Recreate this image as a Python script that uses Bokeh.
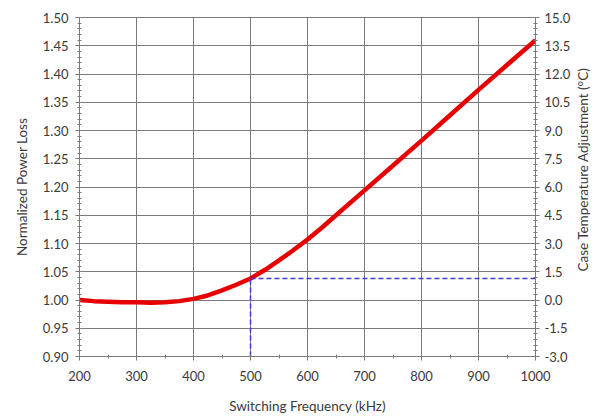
import math
from bokeh.plotting import figure
from bokeh.layouts import row
from bokeh.models import (Range1d, LinearAxis, SingleIntervalTicker, ColumnDataSource,
                          CustomJSTickFormatter)
from bokeh.core.properties import value
from bokeh.embed import file_html
from bokeh.resources import INLINE

freq = [200, 225, 250, 275, 300, 325, 350, 375, 400, 425, 450, 475, 500, 525, 550, 575, 600,
        625, 650, 700, 750, 800, 850, 900, 950, 1000]
loss = [1.000, 0.998, 0.997, 0.996, 0.996, 0.995, 0.996, 0.998, 1.002, 1.008, 1.017, 1.027,
        1.038, 1.053, 1.070, 1.088, 1.107, 1.128, 1.150, 1.194, 1.238, 1.282, 1.327, 1.372,
        1.416, 1.460]
ref_freq = 500
ref_loss = 1.038
right_label = "Case Temperature Adjustment (°C)"

FONT = "Lato"
GRID = "#7a7a7a"
TXT = "#3a3a3a"

p = figure(width=571, height=416, output_backend="svg", toolbar_location=None,
           x_range=Range1d(200, 1000), y_range=Range1d(0.90, 1.50),
           min_border_left=79, min_border_right=36, min_border_top=17, min_border_bottom=60)
p.frame_width = 456
p.frame_height = 339

p.extra_y_ranges = {"temp": Range1d(-3.0, 15.0)}

p.xaxis.ticker = SingleIntervalTicker(interval=100, num_minor_ticks=2)
p.yaxis.ticker = SingleIntervalTicker(interval=0.05, num_minor_ticks=5)
p.yaxis.formatter = CustomJSTickFormatter(code="return tick.toFixed(2);")

right = LinearAxis(y_range_name="temp",
                   ticker=SingleIntervalTicker(interval=1.5, num_minor_ticks=5),
                   formatter=CustomJSTickFormatter(code="return tick.toFixed(1);"))
p.add_layout(right, "right")

p.xaxis.axis_label = "Switching Frequency (kHz)"
p.yaxis[0].axis_label = "Normalized Power Loss"

for ax in [p.xaxis[0], p.yaxis[0], right]:
    ax.axis_label_text_font = FONT
    ax.axis_label_text_font_style = "normal"
    ax.axis_label_text_font_size = "13.5px"
    ax.axis_label_text_color = TXT
    ax.major_label_text_font = FONT
    ax.major_label_text_font_size = "13px"
    ax.major_label_text_color = TXT
    ax.axis_line_color = GRID
    ax.major_tick_line_color = GRID
    ax.minor_tick_line_color = GRID
    ax.major_tick_in = 0
    ax.major_tick_out = 4
    ax.minor_tick_in = 2
    ax.minor_tick_out = 2

p.xaxis.major_label_standoff = 10
p.xaxis.axis_label_standoff = 14
p.yaxis[0].major_label_standoff = 7
p.yaxis[0].axis_label_standoff = 10
right.major_label_standoff = 5

p.xgrid.grid_line_color = GRID
p.ygrid.grid_line_color = GRID
p.outline_line_color = GRID

src = ColumnDataSource(dict(x=freq, y=loss))
p.line("x", "y", source=src, line_color="#e60000", line_width=4.5, line_join="round")

p.line([ref_freq, 1000], [ref_loss, ref_loss], line_color="#3b3bd6", line_width=1.5, line_dash="5 3")
p.line([ref_freq, ref_freq], [0.90, ref_loss], line_color="#3b3bd6", line_width=1.5, line_dash="5 3")

# narrow side panel carrying the right axis title, reading bottom-to-top
p2 = figure(width=26, height=416, output_backend="svg", toolbar_location=None,
            x_range=Range1d(0, 26), y_range=Range1d(0, 416),
            min_border=0, outline_line_color=None)
p2.axis.visible = False
p2.grid.visible = False
p2.text(x=[9], y=[416 - 186.5], text=[right_label], angle=math.pi / 2,
        text_align="center", text_baseline="middle",
        text_font=value(FONT), text_font_size="13.5px", text_color=TXT)

layout = row(p, p2, spacing=0)
open("out.html", "w").write(file_html(layout, INLINE))
